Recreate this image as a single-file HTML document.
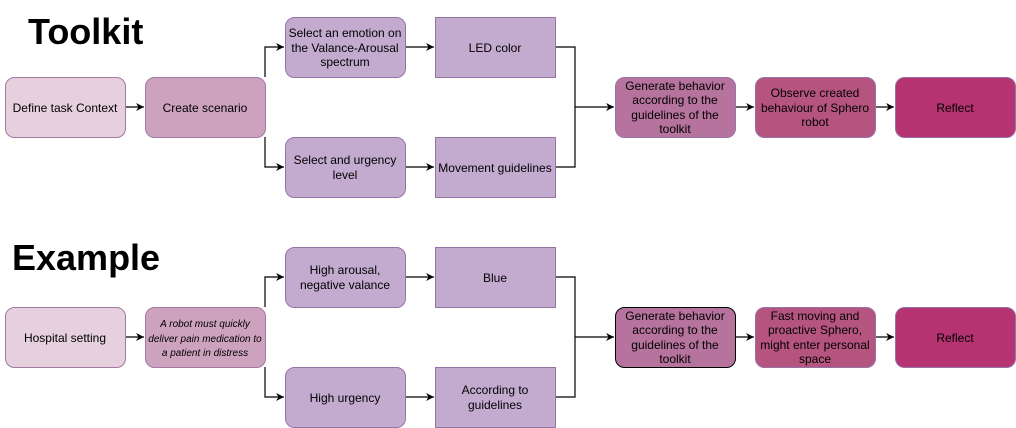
<!DOCTYPE html>
<html><head><meta charset="utf-8"><style>
html,body{margin:0;padding:0;background:#fff;}
svg{display:block;font-family:"Liberation Sans",Arial,sans-serif;}
</style></head><body>
<svg width="1016" height="428" viewBox="0 0 1016 428" xmlns="http://www.w3.org/2000/svg">
<defs>
<marker id="a" markerWidth="10" markerHeight="10" refX="8" refY="5" orient="auto" markerUnits="userSpaceOnUse">
<path d="M0,1 L8,5 L0,9 L2.5,5 Z" fill="#000"/></marker>
</defs>
<text x="28" y="44" font-size="36" font-weight="bold" fill="#000">Toolkit</text>
<text x="12" y="270" font-size="36" font-weight="bold" fill="#000">Example</text>

<g stroke="#000" stroke-width="1.2" fill="none">
<path d="M125,107 H144" marker-end="url(#a)"/>
<path d="M265,77 V47 H284" marker-end="url(#a)"/>
<path d="M265,137 V167 H284" marker-end="url(#a)"/>
<path d="M405,47 H434" marker-end="url(#a)"/>
<path d="M405,167 H434" marker-end="url(#a)"/>
<path d="M555,47 H575 V167 H555"/>
<path d="M575,107 H614" marker-end="url(#a)"/>
<path d="M735,107 H754" marker-end="url(#a)"/>
<path d="M875,107 H894" marker-end="url(#a)"/>
<path d="M125,337 H144" marker-end="url(#a)"/>
<path d="M265,307 V277 H284" marker-end="url(#a)"/>
<path d="M265,367 V397 H284" marker-end="url(#a)"/>
<path d="M405,277 H434" marker-end="url(#a)"/>
<path d="M405,397 H434" marker-end="url(#a)"/>
<path d="M555,277 H575 V397 H555"/>
<path d="M575,337 H614" marker-end="url(#a)"/>
<path d="M735,337 H754" marker-end="url(#a)"/>
<path d="M875,337 H894" marker-end="url(#a)"/>
</g>

<g stroke-width="1">
<rect x="5.5" y="77.5" width="120" height="60" rx="9" fill="#e6d0de" stroke="#a07aa0"/>
<rect x="145.5" y="77.5" width="120" height="60" rx="9" fill="#cda2be" stroke="#a07aa0"/>
<rect x="285.5" y="17.5" width="120" height="60" rx="9" fill="#c3abd0" stroke="#9673a6"/>
<rect x="285.5" y="137.5" width="120" height="60" rx="9" fill="#c3abd0" stroke="#9673a6"/>
<rect x="435.5" y="17.5" width="120" height="60" fill="#c3abd0" stroke="#9673a6"/>
<rect x="435.5" y="137.5" width="120" height="60" fill="#c3abd0" stroke="#9673a6"/>
<rect x="615.5" y="77.5" width="120" height="60" rx="9" fill="#b5739d" stroke="#9673a6"/>
<rect x="755.5" y="77.5" width="120" height="60" rx="9" fill="#b5557f" stroke="#9673a6"/>
<rect x="895.5" y="77.5" width="120" height="60" rx="9" fill="#b53371" stroke="#9673a6"/>
<rect x="5.5" y="307.5" width="120" height="60" rx="9" fill="#e6d0de" stroke="#a07aa0"/>
<rect x="145.5" y="307.5" width="120" height="60" rx="9" fill="#cda2be" stroke="#a07aa0"/>
<rect x="285.5" y="247.5" width="120" height="60" rx="9" fill="#c3abd0" stroke="#9673a6"/>
<rect x="285.5" y="367.5" width="120" height="60" rx="9" fill="#c3abd0" stroke="#9673a6"/>
<rect x="435.5" y="247.5" width="120" height="60" fill="#c3abd0" stroke="#9673a6"/>
<rect x="435.5" y="367.5" width="120" height="60" fill="#c3abd0" stroke="#9673a6"/>
<rect x="615.5" y="307.5" width="120" height="60" rx="9" fill="#b5739d" stroke="#000"/>
<rect x="755.5" y="307.5" width="120" height="60" rx="9" fill="#b5557f" stroke="#9673a6"/>
<rect x="895.5" y="307.5" width="120" height="60" rx="9" fill="#b53371" stroke="#9673a6"/>
</g>

<g font-size="12" fill="#000" text-anchor="middle">
<text x="65" y="112">Define task Context</text>
<text x="205" y="112">Create scenario</text>
<text x="345" y="37">Select an emotion on</text>
<text x="345" y="52">the Valance-Arousal</text>
<text x="345" y="66">spectrum</text>
<text x="345" y="164">Select and urgency</text>
<text x="345" y="179">level</text>
<text x="495" y="52">LED color</text>
<text x="495" y="172">Movement guidelines</text>
<text x="675" y="90">Generate behavior</text>
<text x="675" y="104">according to the</text>
<text x="675" y="119">guidelines of the</text>
<text x="675" y="133">toolkit</text>
<text x="815" y="97">Observe created</text>
<text x="815" y="112">behaviour of Sphero</text>
<text x="815" y="126">robot</text>
<text x="955" y="112">Reflect</text>

<text x="65" y="342">Hospital setting</text>
<text x="205" y="327" font-size="10" font-style="italic">A robot must quickly</text>
<text x="205" y="342" font-size="10" font-style="italic">deliver pain medication to</text>
<text x="205" y="356" font-size="10" font-style="italic">a patient in distress</text>
<text x="345" y="274">High arousal,</text>
<text x="345" y="289">negative valance</text>
<text x="345" y="402">High urgency</text>
<text x="495" y="282">Blue</text>
<text x="495" y="394">According to</text>
<text x="495" y="409">guidelines</text>
<text x="675" y="320">Generate behavior</text>
<text x="675" y="334">according to the</text>
<text x="675" y="349">guidelines of the</text>
<text x="675" y="363">toolkit</text>
<text x="815" y="320">Fast moving and</text>
<text x="815" y="334">proactive Sphero,</text>
<text x="815" y="349">might enter personal</text>
<text x="815" y="363">space</text>
<text x="955" y="342">Reflect</text>
</g>
</svg>
</body></html>
